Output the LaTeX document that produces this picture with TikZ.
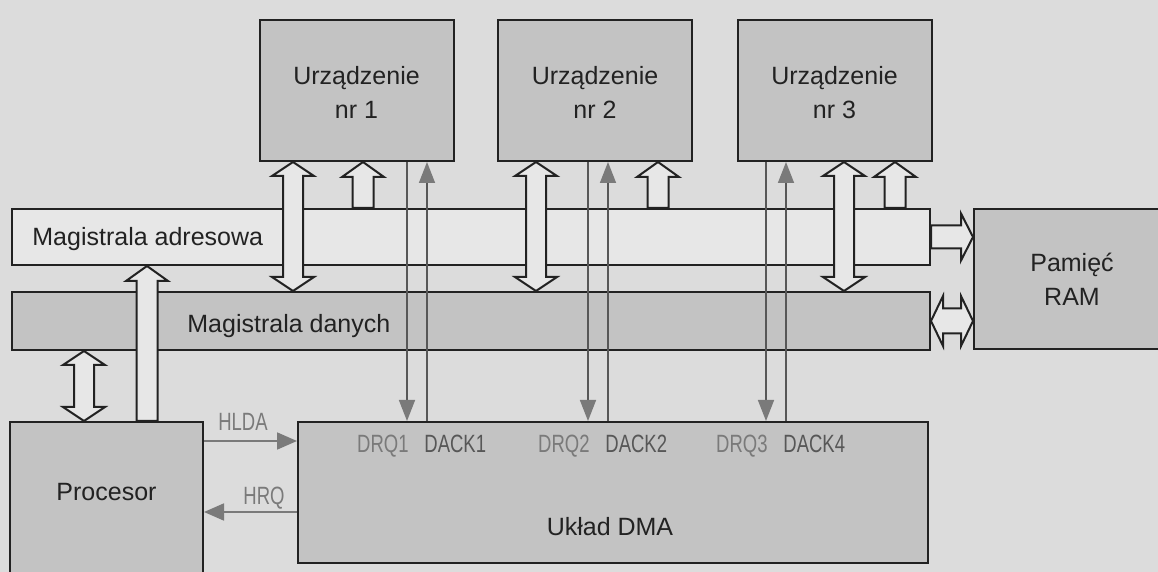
\documentclass[tikz,border=0pt]{standalone}
\usepackage{fontspec}
\setmainfont{Liberation Sans}
\newfontfamily\condfont[FakeStretch=0.74]{Liberation Sans}
\usetikzlibrary{arrows.meta,calc}
\definecolor{bg}{HTML}{DCDCDC}
\definecolor{lightfill}{HTML}{E7E7E7}
\definecolor{boxgray}{HTML}{C3C3C3}
\definecolor{ink}{HTML}{222222}
\definecolor{sig}{HTML}{7A7A7A}
\definecolor{sigdark}{HTML}{575757}
\newcommand\vdblarrow[3]{% #1 x-coordinate name, #2 top anchor, #3 bottom anchor
  \filldraw[blockarrow] (#1 |- #2) -- ++(21,14) -- ++(-11,0) -- ($(#1 |- #3)+(10,-14)$) -- ++(11,0)
    -- (#1 |- #3) -- ++(-21,-14) -- ++(11,0) -- ($(#1 |- #2)+(-10,14)$) -- ++(-11,0) -- cycle;}
\newcommand\vuparrow[3]{% #1 x-coordinate name, #2 base anchor, #3 tip anchor
  \filldraw[blockarrow] (#1 |- #3) -- ++(21,15) -- ++(-10.5,0) -- ($(#1 |- #2)+(10.5,0)$) -- ++(-21,0)
    -- ($(#1 |- #3)+(-10.5,15)$) -- ++(-10.5,0) -- cycle;}
\newcommand\hrarrow[3]{% #1 y-coordinate name, #2 start anchor, #3 tip anchor
  \filldraw[blockarrow] ($(#2 |- #1)+(0,-11.5)$) -- ($(#3 |- #1)+(-12,-11.5)$) -- ++(0,-12) -- (#3 |- #1)
    -- ++(-12,23.5) -- ++(0,-12) -- ($(#2 |- #1)+(0,11.5)$) -- cycle;}
\newcommand\hdblarrow[3]{% #1 y-coordinate name, #2 left anchor, #3 right anchor
  \filldraw[blockarrow] (#2 |- #1) -- ++(12,-25) -- ++(0,12.5) -- ($(#3 |- #1)+(-12,-12.5)$) -- ++(0,-12.5)
    -- (#3 |- #1) -- ++(-12,25) -- ++(0,-12.5) -- ($(#2 |- #1)+(12,12.5)$) -- ++(0,12.5) -- cycle;}
\begin{document}
\begin{tikzpicture}[x=0.5pt,y=-0.5pt,
  unit/.style={draw=ink, line width=1pt, fill=boxgray, inner sep=0pt},
  busA/.style={draw=ink, line width=1pt, fill=lightfill, inner sep=0pt},
  busD/.style={draw=ink, line width=1pt, fill=boxgray, inner sep=0pt},
  blockarrow/.style={draw=ink, line width=1pt, fill=lightfill, line join=miter},
  reqline/.style={draw=sigdark, line width=0.75pt, -{Triangle[length=10.5pt,width=8pt,color=sig]}},
  holdline/.style={draw=sig, line width=0.9pt, -{Triangle[length=10pt,width=8.5pt,color=sig]}},
  lbl/.style={font=\fontsize{12.5pt}{17pt}\selectfont, text=ink, inner sep=0pt},
  siglbl/.style={font=\condfont\fontsize{12.5pt}{15pt}\selectfont, text=sig, inner sep=0pt},
  acklbl/.style={siglbl, text=sigdark}]
\useasboundingbox (0,0) rectangle (1158,572);
\clip (0,0) rectangle (1158,572);
\fill[bg] (0,0) rectangle (1158,572);

% buses
\node[busA, minimum width=459pt, minimum height=28pt] (addr) at (471,237) {};
\node[busD, minimum width=459pt, minimum height=29pt] (data) at (471,321) {};
% units
\node[unit, minimum width=97pt, minimum height=70.5pt] (dev1) at (356.5,90.5) {};
\node[unit, minimum width=97pt, minimum height=70.5pt] (dev2) at (595,90.5) {};
\node[unit, minimum width=97pt, minimum height=70.5pt] (dev3) at (834.5,90.5) {};
\node[unit, minimum width=98pt, minimum height=70pt] (ram) at (1072,279) {};
\node[unit, minimum width=96.5pt, minimum height=81.5pt] (proc) at (106.5,503.5) {};
\node[unit, minimum width=315pt, minimum height=70.5pt] (dma) at (613,492.5) {};

% texts
\node[lbl, anchor=base] (t1a) at ($(dev1.north)+(0,66)$) {Urządzenie};
\node[lbl, anchor=base] (t1b) at ($(dev1.north)+(0,100)$) {nr 1};
\node[lbl, anchor=base] (t2a) at ($(dev2.north)+(0,66)$) {Urządzenie};
\node[lbl, anchor=base] (t2b) at ($(dev2.north)+(0,100)$) {nr 2};
\node[lbl, anchor=base] (t3a) at ($(dev3.north)+(0,66)$) {Urządzenie};
\node[lbl, anchor=base] (t3b) at ($(dev3.north)+(0,100)$) {nr 3};
\node[lbl, anchor=base west] (taddr) at (32,246) {Magistrala adresowa};
\node[lbl, anchor=base west] (tdata) at (187,333) {Magistrala danych};
\node[lbl, anchor=base] (tproc) at (106.5,501) {Procesor};
\node[lbl, anchor=base] (tdma) at (610,536) {Układ DMA};
\node[lbl, anchor=base] (tram1) at (1072,272) {Pamięć};
\node[lbl, anchor=base] (tram2) at (1072,306) {RAM};

% block arrows
\coordinate (xa1) at (293,0);
\coordinate (xa2) at (536,0);
\coordinate (xa3) at (844,0);
\coordinate (xs1) at (363,0);
\coordinate (xs2) at (658,0);
\coordinate (xs3) at (895,0);
\coordinate (xp1) at (84,0);
\coordinate (xp2) at (147,0);
\coordinate (ya) at (0,237);
\coordinate (yd) at (0,321);
\vdblarrow{xa1}{dev1.south}{data.north}
\vdblarrow{xa2}{dev2.south}{data.north}
\vdblarrow{xa3}{dev3.south}{data.north}
\vuparrow{xs1}{addr.north}{dev1.south}
\vuparrow{xs2}{addr.north}{dev2.south}
\vuparrow{xs3}{addr.north}{dev3.south}
\vdblarrow{xp1}{data.south}{proc.north}
\vuparrow{xp2}{proc.north}{addr.south}
\hrarrow{ya}{addr.east}{ram.west}
\hdblarrow{yd}{data.east}{ram.west}

% DRQ / DACK lines
\coordinate (q1) at (407,0);
\coordinate (k1) at (427,0);
\coordinate (q2) at (588,0);
\coordinate (k2) at (608,0);
\coordinate (q3) at (766,0);
\coordinate (k3) at (786,0);
\draw[reqline] (dev1.south -| q1) -- (dma.north -| q1);
\draw[reqline] (dma.north -| k1) -- (dev1.south -| k1);
\draw[reqline] (dev2.south -| q2) -- (dma.north -| q2);
\draw[reqline] (dma.north -| k2) -- (dev2.south -| k2);
\draw[reqline] (dev3.south -| q3) -- (dma.north -| q3);
\draw[reqline] (dma.north -| k3) -- (dev3.south -| k3);
\node[siglbl, anchor=base east] (lq1) at (409,452) {DRQ1};
\node[acklbl, anchor=base west] (lk1) at (424,452) {DACK1};
\node[siglbl, anchor=base east] (lq2) at (590,452) {DRQ2};
\node[acklbl, anchor=base west] (lk2) at (605,452) {DACK2};
\node[siglbl, anchor=base east] (lq3) at (768,452) {DRQ3};
\node[acklbl, anchor=base west] (lk3) at (783,452) {DACK4};

% HLDA / HRQ
\coordinate (yh1) at (0,441);
\coordinate (yh2) at (0,512);
\draw[holdline] (proc.east |- yh1) -- (dma.west |- yh1);
\draw[holdline] (dma.west |- yh2) -- (proc.east |- yh2);
\node[siglbl, anchor=base] (lhlda) at (243,431) {HLDA};
\node[siglbl, anchor=base] (lhrq) at (264,505) {HRQ};
\end{tikzpicture}
\end{document}
